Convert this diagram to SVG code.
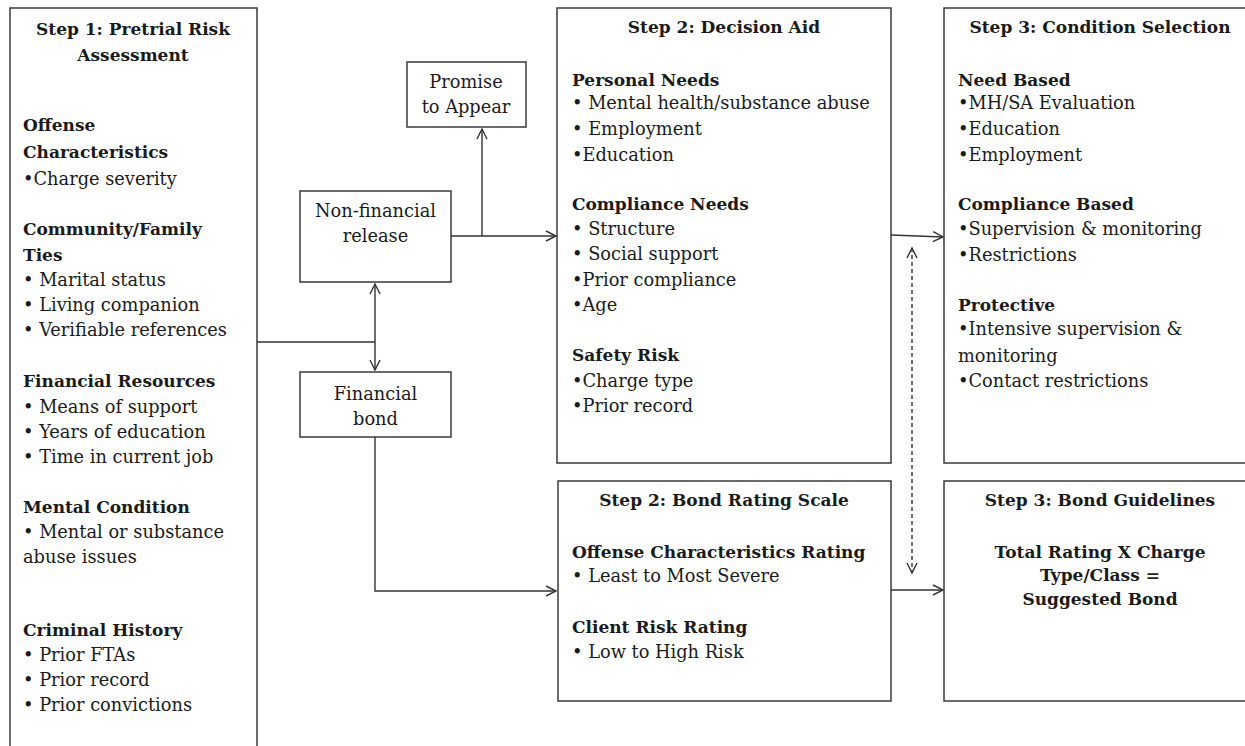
<svg xmlns="http://www.w3.org/2000/svg" width="1245" height="746" viewBox="0 0 1245 746">
<style>
  .box { fill: #ffffff; stroke: #3a3a3a; stroke-width: 1.5; }
  text { font-family: "DejaVu Serif", "Liberation Serif", serif; font-size: 17.8px; fill: #1a1a1a; }
  .b { font-weight: bold; font-size: 17px; }
  .c { text-anchor: middle; }
  .ln { fill: none; stroke: #333333; stroke-width: 1.4; }
  .dash { stroke-dasharray: 4 3; }
</style>
<defs>
  <marker id="arr" markerUnits="userSpaceOnUse" markerWidth="14" markerHeight="14" refX="11" refY="6" orient="auto-start-reverse">
    <path d="M1,1 L11,6 L1,11" fill="none" stroke="#333333" stroke-width="1.4"/>
  </marker>
</defs>
<rect width="1245" height="746" fill="#ffffff"/>

<g id="connectors">
  <polyline class="ln" points="257,342 375,342"/>
  <line class="ln" x1="375" y1="284" x2="375" y2="370" marker-start="url(#arr)" marker-end="url(#arr)"/>
  <line class="ln" x1="451" y1="236" x2="556" y2="236" marker-end="url(#arr)"/>
  <line class="ln" x1="482" y1="236" x2="482" y2="129" marker-end="url(#arr)"/>
  <polyline class="ln" points="375,437 375,591 556,591" marker-end="url(#arr)"/>
  <line class="ln" x1="891" y1="235" x2="943" y2="237" marker-end="url(#arr)"/>
  <line class="ln" x1="891" y1="590" x2="943" y2="590" marker-end="url(#arr)"/>
  <line class="ln dash" x1="912" y1="248" x2="912" y2="573" marker-start="url(#arr)" marker-end="url(#arr)"/>
</g>

<g id="step1">
  <rect class="box" x="10" y="8" width="247" height="760"/>
  <text class="b c" x="133" y="35">Step 1: Pretrial Risk</text>
  <text class="b c" x="133" y="61">Assessment</text>
  <text class="b" x="23" y="131">Offense</text>
  <text class="b" x="23" y="158">Characteristics</text>
  <text x="23" y="185">•Charge severity</text>
  <text class="b" x="23" y="235">Community/Family</text>
  <text class="b" x="23" y="261">Ties</text>
  <text x="23" y="286">• Marital status</text>
  <text x="23" y="311">• Living companion</text>
  <text x="23" y="336">• Verifiable references</text>
  <text class="b" x="23" y="387">Financial Resources</text>
  <text x="23" y="413">• Means of support</text>
  <text x="23" y="438">• Years of education</text>
  <text x="23" y="463">• Time in current job</text>
  <text class="b" x="23" y="513">Mental Condition</text>
  <text x="23" y="538">• Mental or substance</text>
  <text x="23" y="563">abuse issues</text>
  <text class="b" x="23" y="636">Criminal History</text>
  <text x="23" y="661">• Prior FTAs</text>
  <text x="23" y="686">• Prior record</text>
  <text x="23" y="711">• Prior convictions</text>
</g>

<g id="promise">
  <rect class="box" x="407" y="62" width="119" height="65"/>
  <text class="c" x="466" y="88">Promise</text>
  <text class="c" x="466" y="113">to Appear</text>
</g>

<g id="nonfinancial">
  <rect class="box" x="300" y="191" width="151" height="91"/>
  <text class="c" x="375.5" y="217">Non-financial</text>
  <text class="c" x="375.5" y="242">release</text>
</g>

<g id="financial">
  <rect class="box" x="300" y="372" width="151" height="65"/>
  <text class="c" x="375.5" y="400">Financial</text>
  <text class="c" x="375.5" y="425">bond</text>
</g>

<g id="decision-aid">
  <rect class="box" x="557" y="8" width="334" height="455"/>
  <text class="b c" x="724" y="33">Step 2: Decision Aid</text>
  <text class="b" x="572" y="86">Personal Needs</text>
  <text x="572" y="109">• Mental health/substance abuse</text>
  <text x="572" y="135">• Employment</text>
  <text x="572" y="161">•Education</text>
  <text class="b" x="572" y="210">Compliance Needs</text>
  <text x="572" y="235">• Structure</text>
  <text x="572" y="260">• Social support</text>
  <text x="572" y="286">•Prior compliance</text>
  <text x="572" y="311">•Age</text>
  <text class="b" x="572" y="361">Safety Risk</text>
  <text x="572" y="387">•Charge type</text>
  <text x="572" y="412">•Prior record</text>
</g>

<g id="condition-selection">
  <rect class="box" x="944" y="8" width="320" height="455"/>
  <text class="b c" x="1100" y="33">Step 3: Condition Selection</text>
  <text class="b" x="958" y="86">Need Based</text>
  <text x="958" y="109">•MH/SA Evaluation</text>
  <text x="958" y="135">•Education</text>
  <text x="958" y="161">•Employment</text>
  <text class="b" x="958" y="210">Compliance Based</text>
  <text x="958" y="235">•Supervision &amp; monitoring</text>
  <text x="958" y="261">•Restrictions</text>
  <text class="b" x="958" y="311">Protective</text>
  <text x="958" y="335">•Intensive supervision &amp;</text>
  <text x="958" y="362">monitoring</text>
  <text x="958" y="387">•Contact restrictions</text>
</g>

<g id="bond-rating">
  <rect class="box" x="558" y="481" width="333" height="220"/>
  <text class="b c" x="724" y="506">Step 2: Bond Rating Scale</text>
  <text class="b" x="572" y="558">Offense Characteristics Rating</text>
  <text x="572" y="582">• Least to Most Severe</text>
  <text class="b" x="572" y="633">Client Risk Rating</text>
  <text x="572" y="658">• Low to High Risk</text>
</g>

<g id="bond-guidelines">
  <rect class="box" x="944" y="481" width="320" height="220"/>
  <text class="b c" x="1100" y="506">Step 3: Bond Guidelines</text>
  <text class="b c" x="1100" y="558">Total Rating  X  Charge</text>
  <text class="b c" x="1100" y="581">Type/Class =</text>
  <text class="b c" x="1100" y="605">Suggested Bond</text>
</g>
</svg>
